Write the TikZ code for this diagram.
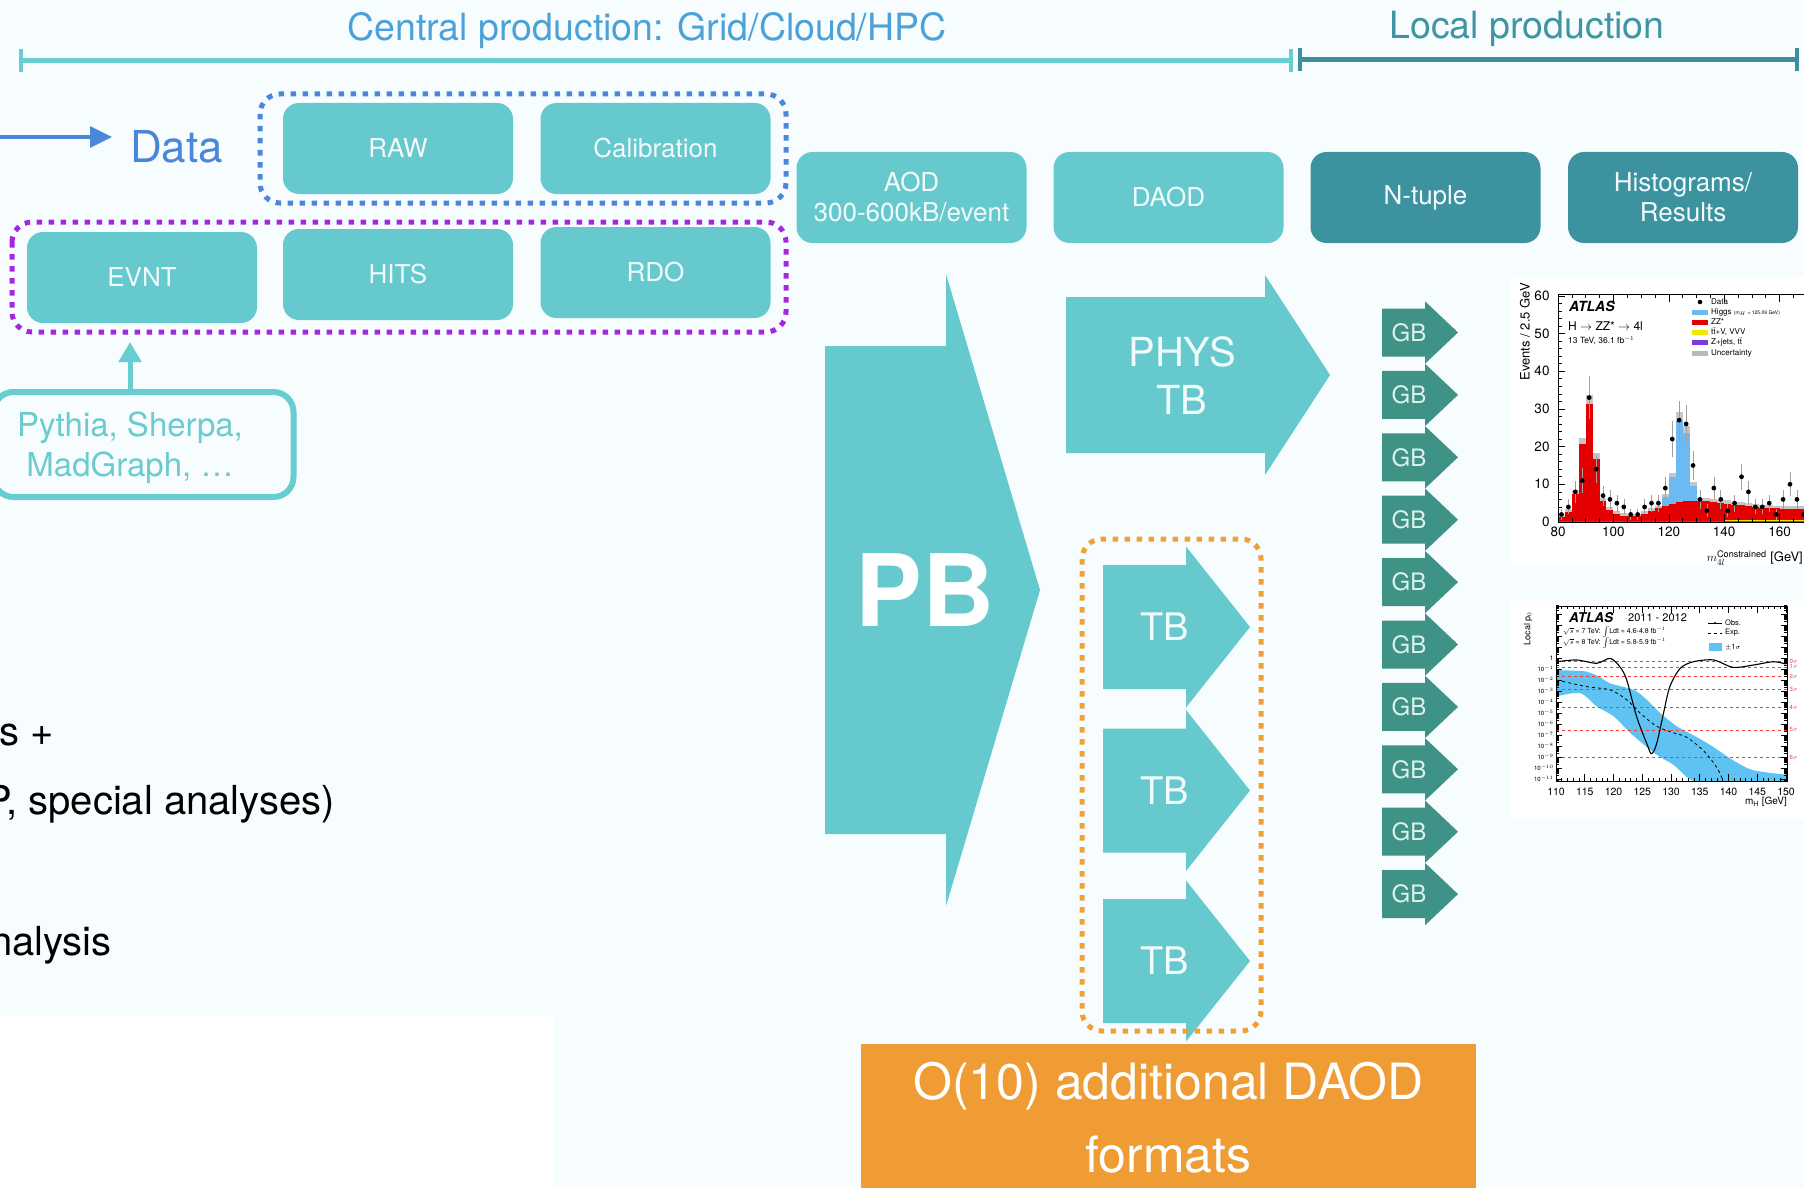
\documentclass[tikz,border=0pt]{standalone}
\usepackage{fontspec}
\setmainfont{TeX Gyre Heros}
\usetikzlibrary{arrows.meta}
\newcommand\fsz[2]{\fontsize{#1}{#2}\selectfont}
\definecolor{bgc}{HTML}{F7FDFE}
\definecolor{tealbox}{HTML}{65C9CD}
\definecolor{boxtext}{HTML}{F2FBFB}
\definecolor{darkteal}{HTML}{3D92A0}
\definecolor{gbgreen}{HTML}{3E9386}
\definecolor{gbtext}{HTML}{DDF0EB}
\definecolor{hdrblue}{HTML}{4CA2D6}
\definecolor{hdrline}{HTML}{68CDD1}
\definecolor{loctext}{HTML}{3F95A3}
\definecolor{locline}{HTML}{3D8F9D}
\definecolor{datablue}{HTML}{4A86DA}
\definecolor{dotpurple}{HTML}{A526E0}
\definecolor{dotorange}{HTML}{F0A035}
\definecolor{orangebox}{HTML}{EE9C33}
\definecolor{pytext}{HTML}{6CCBCF}
\definecolor{higgsblue}{HTML}{6BBAF2}
\definecolor{zzred}{HTML}{E40000}
\definecolor{zjpurple}{HTML}{7A3CD6}
\definecolor{ttvyellow}{HTML}{F2E600}
\definecolor{bandblue}{HTML}{5EC3F2}
\definecolor{sigred}{HTML}{F03C3C}
\begin{document}
\begin{tikzpicture}[x=1pt,y=-1pt,
  box/.style={rounded corners=16pt, fill=tealbox, minimum width=230pt, minimum height=91pt,
    text=boxtext, font=\fsz{26}{30}, align=center, inner sep=0pt},
  dkbox/.style={box, fill=darkteal},
  dotbox/.style={line width=5pt, dash pattern=on 5.5pt off 6.5pt, rounded corners=20pt},
  blk/.style={fill=tealbox},
  blktxt/.style={text=boxtext, align=center, inner sep=0pt},
  gbblk/.style={fill=gbgreen},
  ax/.style={line width=0.8pt, black},
  tick/.style={line width=0.6pt, black},
  tiny/.style={font=\fsz{8}{9.5}, inner sep=0pt},
  lbl/.style={inner sep=0pt},
  lefttxt/.style={anchor=base east, font=\fsz{40}{46}, inner sep=0pt}
]
\clip (0,0) rectangle (1804,1188);
\fill[bgc] (0,0) rectangle (1804,1188);
\fill[white] (0,1015) rectangle (554,1188);

% ---------- header ----------
\node[anchor=base, text=hdrblue, font=\fsz{37.5}{44}, inner sep=0pt] (central) at (647,41) {Central production: Grid/Cloud/HPC};
\node[anchor=base, text=loctext, font=\fsz{37.5}{44}, inner sep=0pt] (local) at (1527,39) {Local production};
\coordinate (cl) at (21,61); \coordinate (cr) at (1291,61);
\coordinate (ll) at (1300,60); \coordinate (lr) at (1797,60);
\draw[hdrline, line width=5pt] (cl) -- (cr);
\draw[hdrline, line width=4pt] ([yshift=-11pt]cl) -- ([yshift=12pt]cl);
\draw[hdrline, line width=4pt] ([yshift=-11pt]cr) -- ([yshift=12pt]cr);
\draw[locline, line width=5pt] (ll) -- (lr);
\draw[locline, line width=4pt] ([yshift=-11pt]ll) -- ([yshift=12pt]ll);
\draw[locline, line width=4pt] ([yshift=-11pt]lr) -- ([yshift=12pt]lr);

% ---------- data / MC boxes ----------
\node[anchor=base west, text=datablue, font=\fsz{44}{50}, inner sep=0pt] (data) at (130,162) {Data};
\coordinate (dstart) at (0,137);
\draw[datablue, line width=3.5pt, -{Triangle[length=22pt,width=21pt]}, shorten >=18pt] (dstart) -- (dstart -| data.west);

\draw[dotbox, draw=datablue] (260,94) rectangle (786,203);
\draw[dotbox, draw=dotpurple] (12,222) rectangle (786,332);

\node[box] (raw) at (398,148.5) {RAW};
\node[box] (calib) at (655.5,148.5) {Calibration};
\node[box] (evnt) at (142,277.5) {EVNT};
\node[box] (hits) at (398,274.5) {HITS};
\node[box] (rdo) at (655.5,272.5) {RDO};

\node[draw=hdrline, line width=6pt, rounded corners=20pt, minimum width=300pt, minimum height=105pt, inner sep=0pt] (pythia) at (143.5,444.5) {};
\node[text=pytext, font=\fsz{33}{40}, align=center, inner sep=0pt] (pytxt) at (130,448) {Pythia, Sherpa,\\MadGraph, …};
\coordinate (evtip) at (130,342);
\draw[hdrline, line width=5pt, -{Triangle[length=20pt,width=22pt]}] (pythia.north -| evtip) -- (evtip);

\node[box] (aod) at (911.5,197.5) {AOD\\300-600kB/event};
\node[box] (daod) at (1168.5,197.5) {DAOD};
\node[dkbox] (ntuple) at (1425.5,197.5) {N-tuple};
\node[dkbox] (hist) at (1683,197.5) {Histograms/\\Results};

% ---------- block arrows ----------
\fill[blk] (825,346) -- (946,346) -- (946,274) -- (1040,590) -- (946,906) -- (946,834) -- (825,834) -- cycle;
\node[blktxt, text=white, font=\fsz{100}{110}\bfseries] (pb) at (925,590) {PB};

\fill[blk] (1066,297) -- (1265,297) -- (1265,275) -- (1330,375) -- (1265,475) -- (1265,453) -- (1066,453) -- cycle;
\node[blktxt, font=\fsz{40}{48}] (phys) at (1182,375.5) {PHYS\\TB};

\foreach \ty/\k in {627/1,790.5/2,961/3}{
  \fill[blk] (1103,{\ty-62}) -- (1186,{\ty-62}) -- (1186,{\ty-80.5}) -- (1250,\ty) -- (1186,{\ty+80.5}) -- (1186,{\ty+62}) -- (1103,{\ty+62}) -- cycle;
  \node[blktxt, font=\fsz{38}{44}] (tb\k) at (1165,\ty) {TB};
}
\draw[dotbox, draw=dotorange] (1082,539) rectangle (1261,1031);

\foreach \i in {0,...,9}{
  \pgfmathsetmacro\cy{332.5+62.4*\i}
  \fill[gbblk] (1382,{\cy-24}) -- (1425,{\cy-24}) -- (1425,{\cy-31.2}) -- (1458,\cy) -- (1425,{\cy+31.2}) -- (1425,{\cy+24}) -- (1382,{\cy+24}) -- cycle;
  \node[inner sep=0pt, text=gbtext, font=\fsz{24}{28}] (gb\i) at (1409,\cy) {GB};
}

% ---------- orange box ----------
\node[fill=orangebox, minimum width=615pt, minimum height=170pt, inner sep=0pt, anchor=north west] (extra) at (861,1044) {};
\node[text=white, font=\fsz{50}{73}, align=center, inner sep=0pt] (extratxt) at (1168.5,1117.5) {O(10) additional DAOD\\formats};

% ---------- left text (cut off) ----------
\node[lefttxt] (lt1) at (54,745) {s +};
\node[lefttxt] (lt2) at (335,814) {P, special analyses)};
\node[lefttxt] (lt3) at (112,955) {nalysis};

% ---------- plot 1: H -> ZZ* -> 4l ----------
\fill[white] (1510,277) rectangle (1804,564);
\begin{scope}[shift={(1336.4pt,-522pt)}, x=2.77pt, y=3.77pt]
  \foreach \a/\r/\t in {80/1.5/1.5, 82.5/3/3, 85/8/8, 87.5/21.5/21.5, 90/32.5/32.5, 92.5/17.5/17.5,
     95/6/6, 97.5/3.5/3.5, 100/2.5/2.5, 102.5/2/2, 105/1.8/1.8, 107.5/1.8/1.8, 110/2.5/2.5,
     112.5/3.2/3.3, 115/3.8/4, 117.5/4.3/7, 120/4.8/12.5, 122.5/5.2/28, 125/5.5/24.5,
     127.5/5.7/10, 130/5.8/6, 132.5/5.8/5.9, 135/5.7/5.8, 137.5/5.5/5.5, 140/5.3/5.3,
     142.5/5/5, 145/4.8/4.8, 147.5/4.6/4.6, 150/4.4/4.4, 152.5/4.2/4.2, 155/4.1/4.1,
     157.5/4/4, 160/3.9/3.9, 162.5/3.8/3.8, 165/3.8/3.8, 167.5/3.8/3.8}{
    \fill[zzred] (\a,0) rectangle ({\a+2.5},\r);
    \fill[higgsblue] (\a,\r) rectangle ({\a+2.5},\t);
    \fill[gray!45] (\a,{\t-0.25-0.03*\t}) rectangle ({\a+2.5},{\t+0.25+0.03*\t});
  }
  \fill[zjpurple] (80,0) rectangle (172,0.35);
  \fill[ttvyellow] (140,0.35) rectangle (172,0.55);
  \foreach \n [count=\i from 0] in {2,4,8,11,33,14,7,6,5,4,2,2,4,5,5,9,22,27,26,15,6,3,9,6,3,5,12,8,4,4,5,2,6,10,6,2}{
    \pgfmathsetmacro\mm{81.25+2.5*\i}
    \pgfmathsetmacro\er{sqrt(\n)}
    \draw[gray!75, line width=0.6pt] (\mm,{\n-\er}) -- (\mm,{\n+\er});
    \fill (\mm,\n) circle[radius=2.4pt];
  }
  \draw[ax] (80,0) rectangle (172,60.3);
  \foreach \xx in {80,85,...,170}{
    \draw[tick] (\xx,0) -- ++(0,1); \draw[tick] (\xx,60.3) -- ++(0,-1);}
  \foreach \xx in {80,100,...,160}{
    \draw[tick] (\xx,0) -- ++(0,2); \draw[tick] (\xx,60.3) -- ++(0,-2);
    \node[lbl, font=\fsz{13.5}{16}] (hx\xx) at (\xx,-2.5) {\xx};}
  \foreach \yy in {0,2,...,60}{\draw[tick] (80,\yy) -- ++(1.3,0);}
  \foreach \yy in {0,10,...,60}{
    \draw[tick] (80,\yy) -- ++(2.6,0);
    \node[lbl, anchor=east, font=\fsz{13.5}{16}] (hy\yy) at (77,\yy) {\yy};}
\end{scope}
\node[lbl, rotate=90, anchor=east, font=\fsz{13}{15}] (p1yt) at (1525,283) {Events / 2.5 GeV};
\node[lbl, anchor=east, font=\fsz{13}{15}] (p1xt) at (1803,558) {$m_{4l}^{\mathrm{Constrained}}$ [GeV]};
\node[lbl, anchor=west, font=\fsz{14}{16}\bfseries\itshape] (atl1) at (1569,306) {ATLAS};
\node[lbl, anchor=west, font=\fsz{12}{14}] (hzz) at (1568,326) {H $\rightarrow$ ZZ* $\rightarrow$ 4l};
\node[lbl, anchor=west, font=\fsz{8.5}{10}] (lum1) at (1568,341) {13 TeV, 36.1 fb$^{-1}$};
\fill (1700,302) circle[radius=2.3pt];
\fill[higgsblue] (1692,309.5) rectangle (1708,314.5);
\fill[zzred] (1692,319.5) rectangle (1708,324.5);
\fill[ttvyellow] (1692,329.5) rectangle (1708,334.5);
\fill[zjpurple] (1692,339.5) rectangle (1708,344.5);
\fill[gray!55] (1692,350.5) rectangle (1708,355.5);
\node[tiny, anchor=west] (lg1) at (1711,302) {Data};
\node[tiny, anchor=west] (lg2) at (1711,312) {Higgs {\fsz{5}{6}(m$_H$ = 125.09 GeV)}};
\node[tiny, anchor=west] (lg3) at (1711,322) {ZZ*};
\node[tiny, anchor=west] (lg4) at (1711,332) {t$\bar{\mathrm{t}}$+V, VVV};
\node[tiny, anchor=west] (lg5) at (1711,342) {Z+jets, t$\bar{\mathrm{t}}$};
\node[tiny, anchor=west] (lg6) at (1711,353) {Uncertainty};

% ---------- plot 2: local p0 ----------
\fill[white] (1510,601) rectangle (1804,819);
\begin{scope}[shift={(923.5pt,-658pt)}, x=5.75pt, y=11pt]
  \begin{scope}
    \clip (110,-11.18) rectangle (150.2,4.73);
    \fill[bandblue] plot[smooth] coordinates {(110,-1.1) (113,-1.15) (115.3,-1.24) (117.5,-1.7) (119.4,-2.3) (123.5,-2.9) (125.8,-3.8) (128.1,-5.0) (131,-6.2) (134.5,-7.2) (137.4,-8.1) (140.8,-9.3) (144.3,-10.2) (150,-10.6)}
      -- (151,-10.6) -- (151,-12) -- (133.9,-12)
      -- plot[smooth] coordinates {(133.9,-11.2) (132.7,-10.8) (130.4,-9.7) (128.1,-9.0) (125.8,-8.1) (122.9,-6.8) (120,-5.3) (117.1,-4.4) (114.2,-3.2) (110,-3.5)} -- cycle;
    \foreach \L in {-0.301,-0.80,-1.64,-2.87,-4.5,-6.54,-9.0}{
      \draw[sigred, dashed, line width=0.6pt] (110,\L) -- (150.2,\L);}
    \draw[line width=0.8pt, dashed] plot[smooth] coordinates {(110.1,-2.0) (115.3,-2.6) (119.4,-2.9) (122.3,-3.8) (124.6,-5.0) (127.5,-6.2) (130.4,-6.8) (132.7,-7.2) (135.6,-8.4) (137.9,-9.9) (139.1,-11.2)};
    \draw[line width=1.1pt] plot[smooth] coordinates {(110.1,-0.34) (113.6,-0.18) (117.1,-0.48) (119.4,-0.03) (121.1,-0.79) (122.3,-2.0) (124.0,-5.3) (125.8,-7.8) (126.6,-8.7) (127.5,-7.8) (128.7,-5.0) (129.8,-2.6) (131.6,-0.94) (133.9,-0.34) (137.4,-0.18) (140.8,-0.85) (144.3,-0.64) (147.8,-0.34) (150,-0.55)};
    \foreach \d in {-12,...,4}{
      \foreach \k in {1,...,9}{
        \pgfmathsetmacro\yy{\d+log10(\k)}
        \draw[tick] (110,\yy) -- ++(0.5,0);
        \draw[tick] (150.2,\yy) -- ++(-0.5,0);}
      \draw[tick] (110,\d) -- ++(1,0);
      \draw[tick] (150.2,\d) -- ++(-1,0);}
    \foreach \xx in {110,...,150}{
      \draw[tick] (\xx,-11.18) -- ++(0,0.3); \draw[tick] (\xx,4.73) -- ++(0,-0.3);}
    \foreach \xx in {110,115,...,150}{
      \draw[tick] (\xx,-11.18) -- ++(0,0.6); \draw[tick] (\xx,4.73) -- ++(0,-0.6);}
  \end{scope}
  \draw[ax] (110,-11.18) rectangle (150.2,4.73);
  \foreach \xx in {110,115,...,150}{
    \node[lbl, font=\fsz{10.5}{12}] (px\xx) at (\xx,-12.2) {\xx};}
  \node[lbl, anchor=east, font=\fsz{6.5}{8}] (py0) at (109.6,0) {1};
  \foreach \d in {1,...,11}{
    \node[lbl, anchor=east, font=\fsz{6}{7}] (py\d) at (109.6,-\d) {10$^{-\d}$};}
  \foreach \L/\s in {-0.301/0,-0.80/1,-1.64/2,-2.87/3,-4.5/4,-6.54/5,-9.0/6}{
    \node[lbl, anchor=west, text=sigred, font=\fsz{6}{7}] (sg\s) at (150.6,\L) {\s$\sigma$};}
\end{scope}
\node[lbl, rotate=90, anchor=east, font=\fsz{9}{11}] (p2yt) at (1528,612) {Local p$_0$};
\node[lbl, anchor=north east, font=\fsz{10}{12}] (p2xt) at (1787,797) {m$_\mathrm{H}$ [GeV]};
\node[lbl, anchor=west, font=\fsz{13.5}{16}\bfseries\itshape] (atl2) at (1569,618) {ATLAS};
\node[lbl, anchor=west, font=\fsz{11}{13}] (yrs) at (1628,618) {2011 - 2012};
\node[lbl, anchor=west, font=\fsz{7}{9}] (s7) at (1563,632) {$\sqrt{s}$ = 7 TeV: $\int$Ldt = 4.6-4.8 fb$^{-1}$};
\node[lbl, anchor=west, font=\fsz{7}{9}] (s8) at (1563,643) {$\sqrt{s}$ = 8 TeV: $\int$Ldt = 5.8-5.9 fb$^{-1}$};
\draw[line width=0.9pt] (1708,623) -- (1722,623);
\fill (1715,623) circle[radius=1.2pt];
\draw[line width=0.7pt, dashed] (1708,633) -- (1722,633);
\fill[bandblue] (1709,643) rectangle (1722,651);
\node[lbl, anchor=west, font=\fsz{7.5}{9}] (lo) at (1725,623) {Obs.};
\node[lbl, anchor=west, font=\fsz{7.5}{9}] (le) at (1725,633) {Exp.};
\node[lbl, anchor=west, font=\fsz{7.5}{9}] (ls) at (1725,647) {$\pm$1$\sigma$};
\end{tikzpicture}
\end{document}
